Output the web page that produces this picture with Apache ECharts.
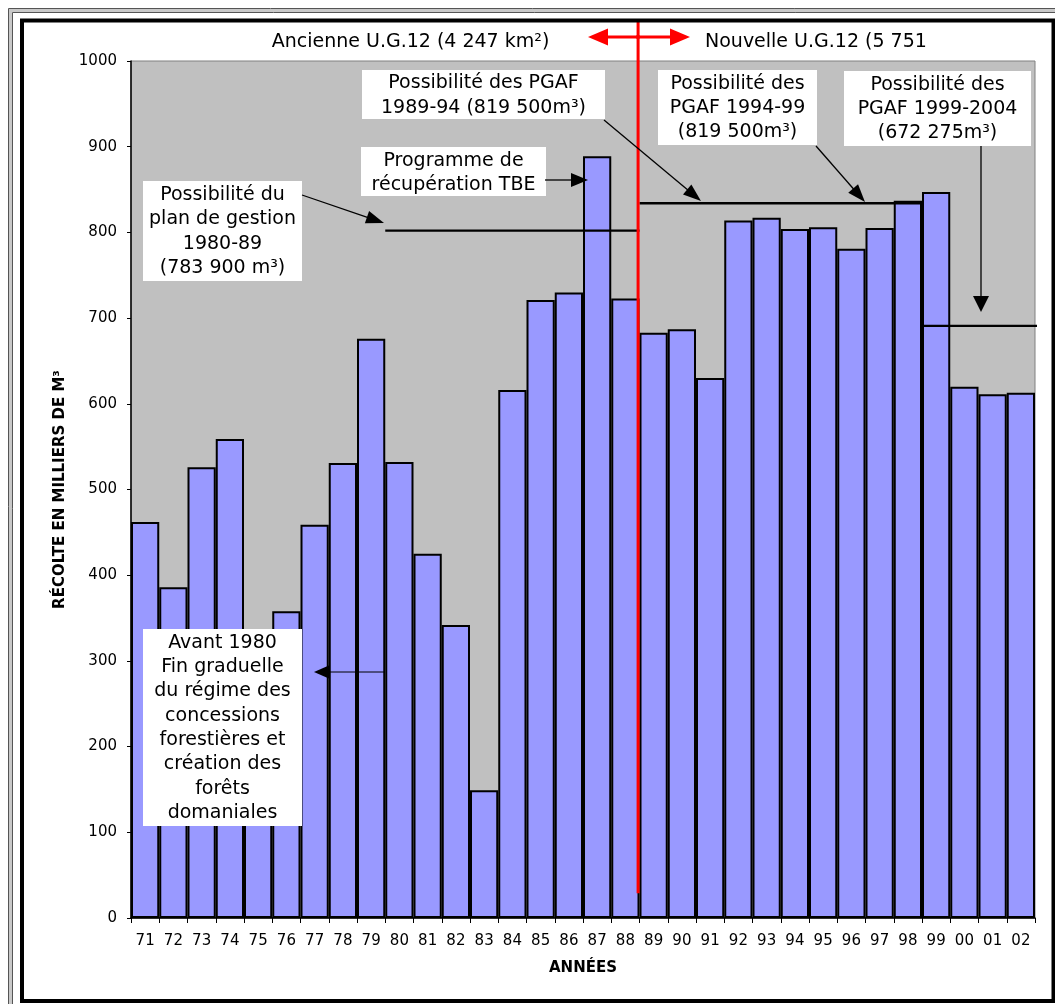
<!DOCTYPE html>
<html>
<head>
<meta charset="utf-8">
<script src="https://cdn.jsdelivr.net/npm/echarts@6/dist/echarts.min.js"></script>
<style>
html,body{margin:0;padding:0;background:#fff;}
#chart{width:1055px;height:1004px;}
</style>
</head>
<body>
<div id="chart"></div>
<script>
// ---- data ----
const years = ['71','72','73','74','75','76','77','78','79','80','81','82','83','84','85','86',
               '87','88','89','90','91','92','93','94','95','96','97','98','99','00','01','02'];
const harvest = [462, 386, 526, 559, 300, 358, 459, 531, 676, 532, 425, 342, 149, 616, 721, 730,
                 889, 723, 683, 687, 630, 814, 817, 804, 806, 781, 805, 837, 847, 620, 611, 613];
const yTicks = [0, 1000, 100]; // min, max, interval
// allowable cut lines: [position in category units, value]
const possPlan8089 = [[9, 802], [18, 802]];
const possPgaf8994 = [[18, 834], [28, 834]];
const possPgaf9904 = [[28.05, 691], [32.2, 691]];
const boundary8889 = [[17.95, 29], [17.95, 1048]];

const FONT = '"DejaVu Sans", sans-serif';
const chart = echarts.init(document.getElementById('chart'));

function arrow(x1, y1, x2, y2, len, wid, lw, color) {
  const dx = x2 - x1, dy = y2 - y1, d = Math.hypot(dx, dy);
  const ux = dx / d, uy = dy / d, px = -uy, py = ux;
  const bx = x2 - ux * len, by = y2 - uy * len;
  return [
    {type: 'line', z: 110, shape: {x1: x1, y1: y1, x2: bx + ux * 2, y2: by + uy * 2},
     style: {stroke: color, lineWidth: lw}},
    {type: 'polygon', z: 111, shape: {points: [[x2, y2], [bx + px * wid / 2, by + py * wid / 2], [bx - px * wid / 2, by - py * wid / 2]]},
     style: {fill: color}}
  ];
}
function box(x, y, w, h) {
  return {type: 'rect', z: 100, shape: {x: x, y: y, width: w, height: h}, style: {fill: '#fff'}};
}
function label(text, cx, cy, size, align) {
  return {type: 'text', z: 105, x: cx, y: cy,
          style: {text: text, font: size + 'px ' + FONT, fill: '#000',
                  textAlign: align || 'center', textVerticalAlign: 'middle', lineHeight: 24.3}};
}

const graphics = [
  // outer frame
  {type: 'rect', z: 90, shape: {x: 9, y: 9, width: 1100, height: 3}, style: {fill: '#c8c8c8'}},
  {type: 'rect', z: 90, shape: {x: 9, y: 9, width: 3, height: 1100}, style: {fill: '#c8c8c8'}},
  {type: 'line', z: 91, shape: {x1: 8.5, y1: 8.5, x2: 1060, y2: 8.5}, style: {stroke: '#555', lineWidth: 1}},
  {type: 'line', z: 91, shape: {x1: 8.5, y1: 8.5, x2: 8.5, y2: 1010}, style: {stroke: '#555', lineWidth: 1}},
  {type: 'line', z: 91, shape: {x1: 12.5, y1: 12.5, x2: 1060, y2: 12.5}, style: {stroke: '#555', lineWidth: 1}},
  {type: 'line', z: 91, shape: {x1: 12.5, y1: 12.5, x2: 12.5, y2: 1010}, style: {stroke: '#555', lineWidth: 1}},
  {type: 'rect', z: 91, shape: {x: 22, y: 20.5, width: 1031.5, height: 980.5}, style: {fill: 'none', stroke: '#000', lineWidth: 4}},
  // top captions
  label('Ancienne U.G.12 (4 247 km²)', 410.5, 42, 19),
  label('Nouvelle U.G.12 (5 751', 705, 42, 19, 'left'),
  // boxes
  box(143, 181, 159, 100),
  label('Possibilité du\nplan de gestion\n1980-89\n(783 900 m³)', 222.5, 231.5, 19),
  box(362, 70, 243, 49),
  label('Possibilité des PGAF\n1989-94 (819 500m³)', 483.5, 95.5, 19),
  box(361, 147, 185, 49),
  label('Programme de\nrécupération TBE', 453.5, 173, 19),
  box(658, 70, 159, 75),
  label('Possibilité des\nPGAF 1994-99\n(819 500m³)', 737.5, 108, 19),
  box(844, 71, 187, 75),
  label('Possibilité des\nPGAF 1999-2004\n(672 275m³)', 937.5, 109, 19),
  box(143, 629, 159, 197),
  label('Avant 1980\nFin graduelle\ndu régime des\nconcessions\nforestières et\ncréation des\nforêts\ndomaniales', 222.5, 728, 19)
];
graphics.push(...arrow(302, 195, 384, 223, 18, 13, 1.3, '#000'));
graphics.push(...arrow(604, 120, 701, 201, 18, 13, 1.3, '#000'));
graphics.push(...arrow(545, 180, 588, 180, 17, 14, 1.3, '#000'));
graphics.push(...arrow(816, 146, 865, 202, 18, 13, 1.3, '#000'));
graphics.push(...arrow(981, 146, 981, 312, 16, 16, 1.3, '#000'));
graphics.push(...arrow(385, 672, 314, 672, 16, 14, 1, '#000'));
// red double arrow
graphics.push(...arrow(640, 37, 588, 37, 20, 17, 3, '#ff0000'));
graphics.push(...arrow(636, 37, 690, 37, 20, 17, 3, '#ff0000'));

function refLine(data, color, width) {
  return {type: 'line', xAxisIndex: 1, data: data, clip: false, symbol: 'none', silent: true, z: 5,
          lineStyle: {color: color, width: width}, animation: false};
}

chart.setOption({
  animation: false,
  grid: {left: 131, right: 20, top: 61, bottom: 86, show: true, backgroundColor: '#c0c0c0',
         borderColor: '#808080', borderWidth: 1},
  xAxis: [{
    type: 'category', data: years,
    name: 'ANNÉES', nameLocation: 'middle', nameGap: 43,
    nameTextStyle: {fontFamily: FONT, fontWeight: 'bold', fontSize: 15, color: '#000'},
    axisLine: {lineStyle: {color: '#000', width: 1.5}},
    axisTick: {show: true, length: 5, lineStyle: {color: '#000'}},
    axisLabel: {interval: 0, margin: 16, fontFamily: FONT, fontSize: 15, color: '#000'},
    splitLine: {show: false}
  }, {
    type: 'value', min: 0, max: 32, show: false
  }],
  yAxis: {
    type: 'value', min: yTicks[0], max: yTicks[1], interval: yTicks[2],
    name: 'RÉCOLTE EN MILLIERS DE M³', nameLocation: 'middle', nameGap: 62, nameRotate: 90,
    nameTextStyle: {fontFamily: FONT, fontWeight: 'bold', fontSize: 15, color: '#000'},
    axisLine: {show: true, lineStyle: {color: '#000', width: 1.5}},
    axisTick: {show: true, length: 4, lineStyle: {color: '#000'}},
    axisLabel: {margin: 14, fontFamily: FONT, fontSize: 15, color: '#000',
                formatter: function (v) { return String(v); }},
    splitLine: {show: false}
  },
  series: [
    {type: 'bar', data: harvest, barCategoryGap: '0%', z: 2,
     itemStyle: {color: '#9999ff', borderColor: '#000', borderWidth: 2}},
    refLine(possPlan8089, '#000', 2.3),
    refLine(possPgaf8994, '#000', 2.3),
    refLine(possPgaf9904, '#000', 2.3),
    refLine(boundary8889, '#ff0000', 3)
  ],
  graphic: graphics
});
</script>
</body>
</html>
